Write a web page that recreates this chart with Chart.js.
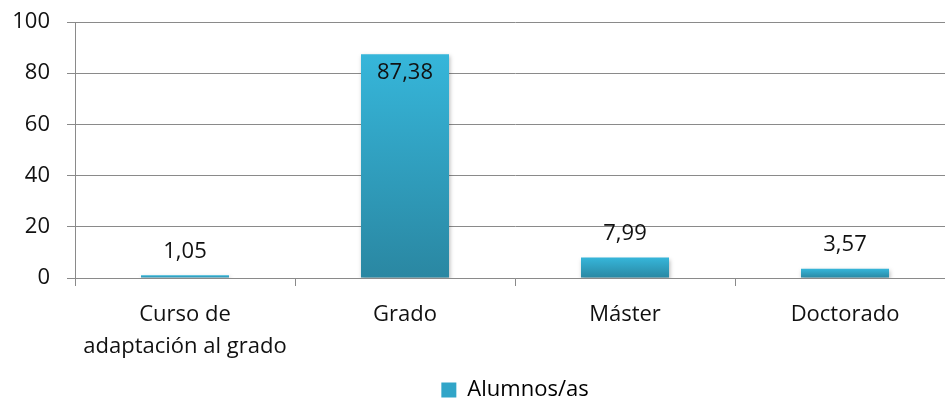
<!DOCTYPE html>
<html>
<head>
<meta charset="utf-8">
<script src="https://cdn.jsdelivr.net/npm/chart.js@4"></script>
<style>
  html, body { margin: 0; padding: 0; overflow: hidden; background: #fff; }
  #wrap { width: 960px; height: 411px; }
</style>
</head>
<body>
<div id="wrap"><canvas id="chart" width="960" height="411"></canvas></div>
<script>
const categories = [["Curso de", "adaptación al grado"], "Grado", "Máster", "Doctorado"];
const seriesName = "Alumnos/as";
const alumnos = [1.05, 87.38, 7.99, 3.57];
const yTicks = [0, 20, 40, 60, 80, 100];

const FONT = "'Open Sans', sans-serif";
const TEXT = "#111";
const GRID = "#8a8a8a";

function barGradient(context) {
  const chart = context.chart;
  const y = chart.scales.y;
  if (!y || context.raw === undefined) return "#33aed2";
  const top = y.getPixelForValue(context.raw);
  const bottom = y.getPixelForValue(0);
  const g = chart.ctx.createLinearGradient(0, top, 0, Math.max(bottom, top + 1));
  g.addColorStop(0, "#36b6da");
  g.addColorStop(1, "#2a87a2");
  return g;
}

function formatValue(v) {
  return v.toFixed(2).replace(".", ",");
}

const barShadow = {
  id: "barShadow",
  beforeDatasetsDraw(chart) {
    const ctx = chart.ctx;
    ctx.save();
    ctx.shadowColor = "rgba(0,0,0,0.28)";
    ctx.shadowBlur = 4;
    ctx.shadowOffsetX = 1;
    ctx.shadowOffsetY = 2;
  },
  afterDatasetsDraw(chart) {
    chart.ctx.restore();
  }
};

const valueLabels = {
  id: "valueLabels",
  afterDatasetsDraw(chart) {
    const ctx = chart.ctx;
    const meta = chart.getDatasetMeta(0);
    ctx.save();
    ctx.font = "22px " + FONT;
    ctx.fillStyle = TEXT;
    ctx.textAlign = "center";
    ctx.textBaseline = "middle";
    meta.data.forEach((bar, i) => {
      const v = alumnos[i];
      const y = v > 80 ? bar.y + 18 : bar.y - 24;
      ctx.fillText(formatValue(v), bar.x, y);
    });
    ctx.restore();
  }
};

new Chart(document.getElementById("chart"), {
  type: "bar",
  data: {
    labels: categories,
    datasets: [{
      label: seriesName,
      data: alumnos,
      backgroundColor: barGradient,
      borderWidth: 0,
      barPercentage: 0.4,
      categoryPercentage: 1
    }]
  },
  options: {
    responsive: false,
    animation: false,
    devicePixelRatio: 1,
    layout: { padding: { top: 22, right: 5, bottom: 0, left: 0 } },
    plugins: {
      tooltip: { enabled: false },
      legend: {
        position: "bottom",
        fullSize: false,
        labels: {
          color: TEXT,
          font: { family: FONT, size: 22 },
          boxWidth: 15,
          boxHeight: 15,
          padding: 2,
          generateLabels(chart) {
            return [{
              text: seriesName,
              fillStyle: "#31a5c8",
              strokeStyle: "#31a5c8",
              lineWidth: 0,
              datasetIndex: 0
            }];
          }
        }
      }
    },
    scales: {
      x: {
        offset: true,
        grid: {
          offset: true,
          drawOnChartArea: false,
          drawTicks: true,
          tickLength: 8,
          color: GRID
        },
        border: { color: GRID },
        ticks: {
          color: TEXT,
          font: { family: FONT, size: 22, lineHeight: 1.45 },
          padding: 13,
          maxRotation: 0,
          autoSkip: false
        },
        afterFit(scale) { scale.height = 99; }
      },
      y: {
        min: 0,
        max: 100,
        afterBuildTicks(scale) { scale.ticks = yTicks.map(v => ({ value: v })); },
        grid: { color: GRID, tickLength: 8 },
        border: { color: GRID },
        ticks: {
          color: TEXT,
          font: { family: FONT, size: 22 },
          padding: 17
        },
        afterFit(scale) {
          scale.width = 75;
          scale.paddingTop = 0;
          scale.paddingBottom = 0;
        }
      }
    }
  },
  plugins: [barShadow, valueLabels]
});
</script>
</body>
</html>
